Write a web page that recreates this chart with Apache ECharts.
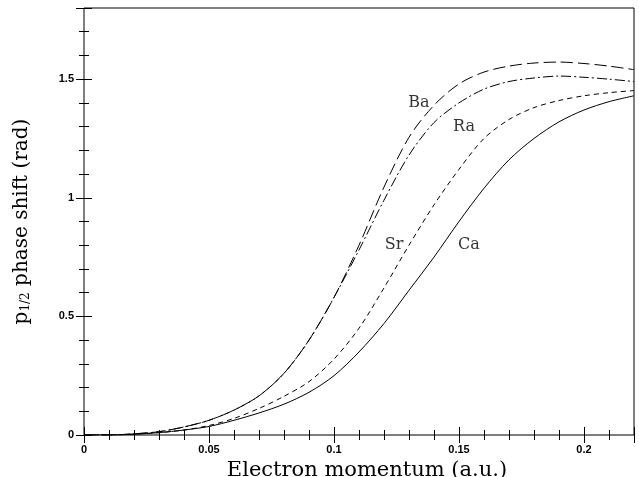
<!DOCTYPE html>
<html lang="en">
<head>
    <meta charset="UTF-8">
    <title>p1/2 phase shift</title>
    <script src="https://cdn.jsdelivr.net/npm/echarts@6/dist/echarts.min.js"></script>
</head>
<body style="margin:0">
<div id="main" style="width: 639px;height:477px;"></div>

<script>
    // electron momentum (a.u.)
    const momentum = [0, 0.01, 0.02, 0.03, 0.04, 0.05, 0.06, 0.07, 0.08, 0.09, 0.10, 0.11,
        0.12, 0.13, 0.14, 0.15, 0.16, 0.17, 0.18, 0.19, 0.20, 0.21, 0.22];
    // phase shifts (rad)
    const ca = [0, 0, 0.003, 0.01, 0.021, 0.036, 0.062, 0.093, 0.13, 0.18, 0.25, 0.35,
        0.47, 0.61, 0.75, 0.90, 1.04, 1.16, 1.25, 1.32, 1.37, 1.405, 1.43];
    const sr = [0, 0, 0.004, 0.01, 0.021, 0.04, 0.07, 0.112, 0.163, 0.225, 0.32, 0.45,
        0.62, 0.80, 0.97, 1.12, 1.25, 1.33, 1.38, 1.41, 1.43, 1.443, 1.452];
    const ba = [0, 0, 0.005, 0.014, 0.034, 0.062, 0.105, 0.165, 0.26, 0.40, 0.58, 0.80,
        1.045, 1.255, 1.39, 1.48, 1.53, 1.555, 1.568, 1.572, 1.566, 1.555, 1.54];
    const ra = [0, 0, 0.005, 0.014, 0.034, 0.062, 0.105, 0.165, 0.26, 0.40, 0.58, 0.78,
        0.99, 1.18, 1.317, 1.40, 1.458, 1.49, 1.505, 1.513, 1.508, 1.50, 1.49];

    // curve labels [x, y, text]
    const curveLabels = [[0.134, 1.40, 'Ba'], [0.152, 1.30, 'Ra'], [0.124, 0.80, 'Sr'], [0.154, 0.80, 'Ca']];

    const pairs = function (ys) {
        return momentum.map(function (x, i) { return [x, ys[i]]; });
    };

    const tickFont = {fontFamily: 'Liberation Sans', fontSize: 11, fontWeight: 'bold', color: '#000'};
    const serif = 'DejaVu Serif';

    const line = function (name, ys, dash) {
        return {
            name: name, type: 'line', data: pairs(ys), smooth: 0.3,
            symbol: 'none', lineStyle: {color: '#000', width: 1, type: dash}
        };
    };

    const mirrorTicks = {
        axisLine: {show: false},
        axisTick: {inside: true, length: 8, lineStyle: {color: '#000'}},
        minorTick: {show: true, splitNumber: 5, length: 5, lineStyle: {color: '#000'}},
        splitLine: {show: false}
    };

    const myChart = echarts.init(document.getElementById('main'));
    myChart.setOption({
        animation: false,
        grid: {
            left: 84, right: 5, top: 8, bottom: 42, containLabel: false, outerBoundsMode: 'none',
            show: true, borderColor: '#000', borderWidth: 1
        },
        xAxis: [Object.assign({
            type: 'value', min: 0, max: 0.22, interval: 0.05,
            axisLabel: Object.assign({margin: 9, showMaxLabel: false}, tickFont),
            name: 'Electron momentum (a.u.)', nameLocation: 'middle', nameGap: 24,
            nameTextStyle: {fontFamily: serif, fontSize: 21, color: '#000', padding: [0, 0, 0, 16]}
        }, mirrorTicks), Object.assign({
            type: 'value', min: 0, max: 0.22, interval: 0.05, position: 'top',
            axisLabel: {show: false}
        }, mirrorTicks)],
        yAxis: [Object.assign({
            type: 'value', min: 0, max: 1.8, interval: 0.5,
            axisLabel: Object.assign({margin: 10, showMaxLabel: false}, tickFont),
            name: '{p|p}{s|1/2}{p| phase shift (rad)}', nameLocation: 'middle', nameGap: 52,
            nameRotate: 90,
            nameTextStyle: {
                rich: {
                    p: {fontFamily: serif, fontSize: 20, color: '#000'},
                    s: {fontFamily: serif, fontSize: 12, color: '#000', padding: [7, 0, 0, 0]}
                }
            }
        }, mirrorTicks), Object.assign({
            type: 'value', min: 0, max: 1.8, interval: 0.5, position: 'right',
            axisLabel: {show: false}
        }, mirrorTicks)],
        series: [
            line('Ca', ca, 'solid'),
            line('Sr', sr, [5, 4]),
            line('Ba', ba, [12, 5]),
            line('Ra', ra, [10, 3, 2, 3]),
            {
                type: 'scatter', symbolSize: 1, itemStyle: {color: 'rgba(0,0,0,0)'},
                data: curveLabels.map(function (d) { return {value: [d[0], d[1]], name: d[2]}; }),
                label: {
                    show: true, position: 'inside', formatter: '{b}',
                    fontFamily: serif, fontSize: 16, color: '#000'
                },
                labelLayout: {hideOverlap: false}
            }
        ]
    });
</script>
</body>
</html>
